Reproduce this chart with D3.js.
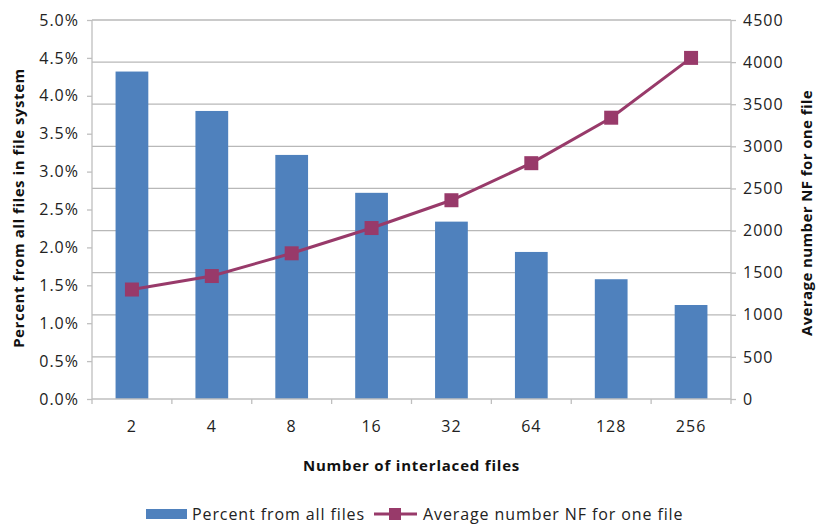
<!DOCTYPE html>
<html><head><meta charset="utf-8">
<script src="https://cdn.jsdelivr.net/npm/d3@7"></script>
<style>
body{margin:0;background:#fff;}
svg{display:block;font-family:"Open Sans","Noto Sans",sans-serif;}
</style></head>
<body><svg id="c" width="816" height="525"></svg>
<script>
const categories = ["2","4","8","16","32","64","128","256"];
const percentValues = [4.32, 3.80, 3.22, 2.72, 2.34, 1.94, 1.58, 1.24];
const nfValues = [1300, 1460, 1730, 2030, 2360, 2800, 3340, 4050];
const leftTicks = [0,0.5,1,1.5,2,2.5,3,3.5,4,4.5,5];
const rightTicks = [0,500,1000,1500,2000,2500,3000,3500,4000,4500];

const svg = d3.select("#c");
const L=92, R=731, T=20, B=399;
const x = d3.scaleBand().domain(categories).range([L,R]).paddingInner(0.59).paddingOuter(0.295);
const xb = d3.scaleBand().domain(categories).range([L,R]);
const yL = d3.scaleLinear().domain([0,5]).range([B,T]);
const yR = d3.scaleLinear().domain([0,4500]).range([B,T]);

// gridlines (aligned with right axis)
svg.append("g").selectAll("line").data(rightTicks.filter(d=>d>0)).join("line")
  .attr("x1",L).attr("x2",R).attr("y1",d=>yR(d)).attr("y2",d=>yR(d))
  .attr("stroke","#B8B8B8").attr("stroke-width",1.3);

// bars
svg.append("g").selectAll("rect").data(percentValues).join("rect")
  .attr("x",(d,i)=>x(categories[i])).attr("width",x.bandwidth())
  .attr("y",d=>yL(d)).attr("height",d=>B-yL(d))
  .attr("fill","#4F81BD");

// axes
const axisColor="#BFBFBF";
const gl = svg.append("g").attr("transform",`translate(${L},0)`)
  .call(d3.axisLeft(yL).tickValues(leftTicks).tickFormat(d=>d.toFixed(1)+"%").tickSize(5).tickPadding(8));
const gr = svg.append("g").attr("transform",`translate(${R},0)`)
  .call(d3.axisRight(yR).tickValues(rightTicks).tickFormat(d3.format("d")).tickSize(5).tickPadding(7));
const gb = svg.append("g").attr("transform",`translate(0,${B})`)
  .call(d3.axisBottom(xb).tickSize(0).tickPadding(22));
// category boundary ticks
svg.append("g").selectAll("line").data(d3.range(categories.length+1)).join("line")
  .attr("x1",i=>L+i*xb.step()).attr("x2",i=>L+i*xb.step()).attr("y1",B).attr("y2",B+5)
  .attr("stroke",axisColor).attr("stroke-width",1.3);
[gl,gr,gb].forEach(g=>{
  g.selectAll(".domain").attr("stroke",axisColor).attr("stroke-width",1.3);
  g.selectAll(".tick line").attr("stroke",axisColor).attr("stroke-width",1.3);
  g.selectAll("text").attr("fill","#222").style("font-size","16px").style("letter-spacing","1px")
    .style("font-family","'Open Sans',sans-serif");
});
gl.select(".domain").attr("d",`M0,${T}V${B}`);
gr.select(".domain").attr("d",`M0,${T}V${B}`);
gb.select(".domain").attr("d",`M${L},0H${R}`);

// line
const lineColor="#983A6A";
const line = d3.line().x((d,i)=>xb(categories[i])+xb.bandwidth()/2).y(d=>yR(d));
svg.append("path").datum(nfValues).attr("d",line).attr("fill","none")
  .attr("stroke",lineColor).attr("stroke-width",3);
svg.append("g").selectAll("rect").data(nfValues).join("rect")
  .attr("x",(d,i)=>xb(categories[i])+xb.bandwidth()/2-7).attr("y",d=>yR(d)-7)
  .attr("width",14).attr("height",14).attr("fill",lineColor);

// titles
const titleStyle = s=>s.attr("text-anchor","middle").style("font-size","15px").style("font-weight","bold").attr("fill","#111");
svg.append("text").attr("transform",`translate(24,208) rotate(-90)`)
  .call(titleStyle).style("letter-spacing","0.55px")
  .text("Percent from all files in file system");
svg.append("text").attr("transform",`translate(812,213) rotate(-90)`)
  .call(titleStyle).style("letter-spacing","0.4px")
  .text("Average number NF for one file");
svg.append("text").attr("x",(L+R)/2).attr("y",471)
  .call(titleStyle).style("letter-spacing","0.8px")
  .text("Number of interlaced files");

// legend
const lg = svg.append("g");
lg.append("rect").attr("x",146).attr("y",509).attr("width",41).attr("height",10).attr("fill","#4F81BD");
lg.append("text").attr("x",192).attr("y",520).style("font-size","16px").style("letter-spacing","0.9px").attr("fill","#222").text("Percent from all files");
lg.append("line").attr("x1",374).attr("x2",417).attr("y1",514).attr("y2",514).attr("stroke",lineColor).attr("stroke-width",3);
lg.append("rect").attr("x",389).attr("y",508).attr("width",12).attr("height",12).attr("fill",lineColor);
lg.append("text").attr("x",423).attr("y",520).style("font-size","16px").style("letter-spacing","0.9px").attr("fill","#222").text("Average number NF for one file");
</script></body></html>
